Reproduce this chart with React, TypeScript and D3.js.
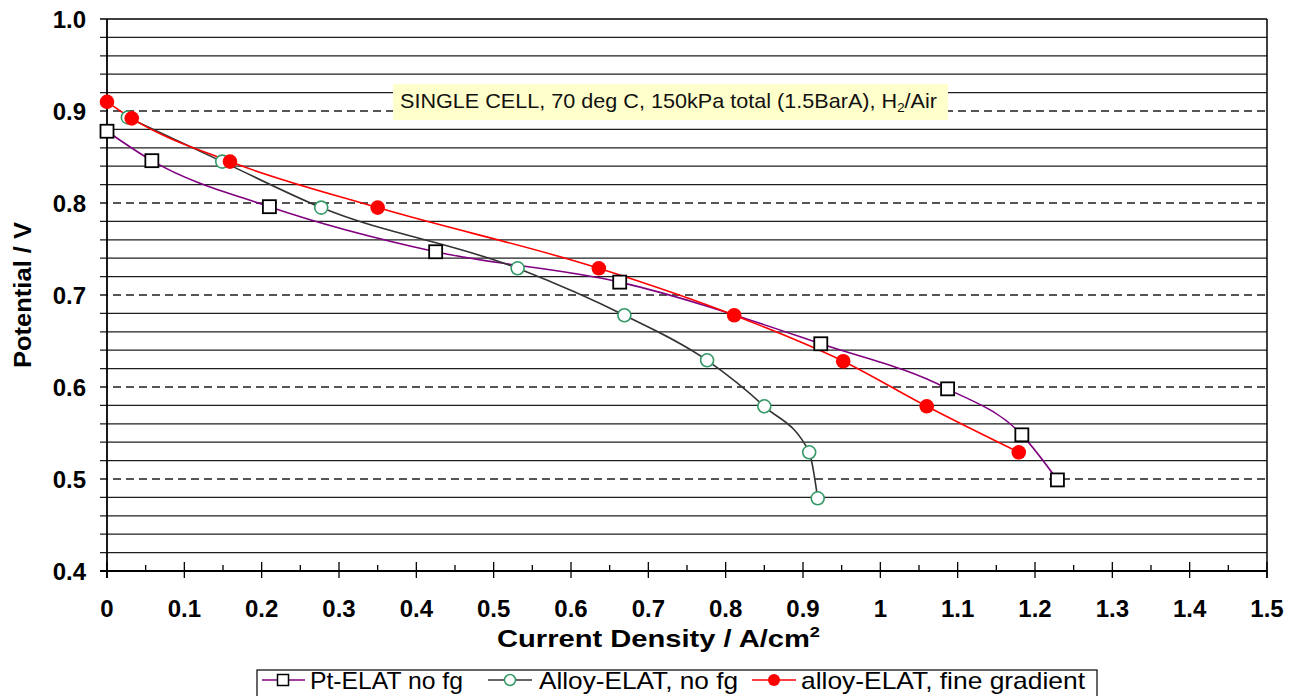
import React from 'react';
import * as d3 from 'd3';

const ptX = [0, 0.058, 0.210, 0.425, 0.663, 0.923, 1.087, 1.183, 1.229];
const ptV = [0.878, 0.846, 0.796, 0.747, 0.714, 0.647, 0.598, 0.548, 0.499];
const alloyX = [0.027, 0.149, 0.277, 0.531, 0.669, 0.776, 0.850, 0.908, 0.919];
const alloyV = [0.893, 0.845, 0.795, 0.729, 0.678, 0.629, 0.579, 0.529, 0.479];
const fgX = [0, 0.032, 0.159, 0.350, 0.636, 0.811, 0.952, 1.060, 1.179];
const fgV = [0.910, 0.892, 0.845, 0.795, 0.729, 0.678, 0.628, 0.579, 0.529];

const xTickValues = [0, 0.1, 0.2, 0.3, 0.4, 0.5, 0.6, 0.7, 0.8, 0.9, 1, 1.1, 1.2, 1.3, 1.4, 1.5];
const xTickLabels = ['0', '0.1', '0.2', '0.3', '0.4', '0.5', '0.6', '0.7', '0.8', '0.9', '1', '1.1', '1.2', '1.3', '1.4', '1.5'];
const yTickValues = [0.4, 0.5, 0.6, 0.7, 0.8, 0.9, 1.0];
const yTickLabels = ['0.4', '0.5', '0.6', '0.7', '0.8', '0.9', '1.0'];
const seriesNames = ['Pt-ELAT no fg', 'Alloy-ELAT, no fg', 'alloy-ELAT, fine gradient'];
const annotation = 'SINGLE CELL, 70 deg C, 150kPa total (1.5BarA), H';

const FONT = "'Liberation Sans', Arial, sans-serif";

export default function App() {
  const x = d3.scaleLinear().domain([0, 1.5]).range([107, 1267]);
  const y = d3.scaleLinear().domain([0.4, 1.0]).range([571, 19]);

  const minor: number[] = [];
  for (let i = 21; i < 50; i++) {
    if (i % 5 !== 0) minor.push(i / 50);
  }
  const xMinor = d3.range(0.05, 1.5, 0.1);

  const line = d3
    .line<[number, number]>()
    .x((d) => x(d[0]))
    .y((d) => y(d[1]))
    .curve(d3.curveMonotoneX);

  const pt: [number, number][] = ptX.map((v, i) => [v, ptV[i]]);
  const al: [number, number][] = alloyX.map((v, i) => [v, alloyV[i]]);
  const fg: [number, number][] = fgX.map((v, i) => [v, fgV[i]]);

  const sq = 13;
  const gridColor = '#1e1e1e';

  return (
    <svg width={1289} height={696} style={{ position: 'absolute', left: 0, top: 0, background: '#fff' }} fontFamily={FONT}>
      {minor.map((v) => (
        <line key={'m' + v} x1={100} x2={x(1.5)} y1={y(v)} y2={y(v)} stroke={gridColor} strokeWidth={1.3} />
      ))}
      {yTickValues.filter((v) => v > 0.45 && v < 0.95).map((v) => (
        <line key={'M' + v} x1={100} x2={x(1.5)} y1={y(v)} y2={y(v)} stroke={gridColor} strokeWidth={1.3} strokeDasharray="8,5" />
      ))}
      <line x1={100} x2={x(1.5)} y1={y(1.0)} y2={y(1.0)} stroke="#000" strokeWidth={1.5} />
      <line x1={100} x2={x(1.5)} y1={y(0.4)} y2={y(0.4)} stroke="#000" strokeWidth={1.8} />
      <line x1={x(0)} x2={x(0)} y1={y(1.0)} y2={y(0.4) + 7} stroke="#000" strokeWidth={1.8} />
      <line x1={x(1.5)} x2={x(1.5)} y1={y(1.0)} y2={y(0.4) + 7} stroke="#000" strokeWidth={1.5} />
      {xTickValues.map((v) => (
        <line key={'xt' + v} x1={x(v)} x2={x(v)} y1={y(0.4) - 9} y2={y(0.4) + 7} stroke="#000" strokeWidth={1.3} />
      ))}
      {xMinor.map((v) => (
        <line key={'xm' + v} x1={x(v)} x2={x(v)} y1={y(0.4) - 6} y2={y(0.4)} stroke="#000" strokeWidth={1.3} />
      ))}
      {xTickValues.map((v, i) => (
        <text key={'xl' + v} x={x(v)} y={617} textAnchor="middle" fontSize={24} fontWeight="bold" fill="#000">
          {xTickLabels[i]}
        </text>
      ))}
      {yTickValues.map((v, i) => (
        <text key={'yl' + v} x={86} y={y(v) + 8.5} textAnchor="end" fontSize={24} fontWeight="bold" fill="#000">
          {yTickLabels[i]}
        </text>
      ))}
      <text x={497} y={647} fontSize={24} fontWeight="bold" fill="#000" textLength={323} lengthAdjust="spacingAndGlyphs">
        Current Density / A/cm<tspan dy={-10} fontSize={15}>2</tspan>
      </text>
      <text transform={`translate(31,${295}) rotate(-90)`} textAnchor="middle" fontSize={24} fontWeight="bold" fill="#000" textLength={146} lengthAdjust="spacingAndGlyphs">
        Potential / V
      </text>

      <rect x={393} y={84} width={555} height={36} fill="#ffffcc" />
      <text x={400} y={108} fontSize={21} fill="#111" textLength={537} lengthAdjust="spacingAndGlyphs">
        {annotation}
        <tspan dy={4} fontSize={13}>2</tspan>
        <tspan dy={-4}>/Air</tspan>
      </text>

      <path d={line(pt) || ''} fill="none" stroke="#800080" strokeWidth={1.6} />
      <path d={line(al) || ''} fill="none" stroke="#333" strokeWidth={1.6} />
      <path d={line(fg) || ''} fill="none" stroke="#ff0000" strokeWidth={1.6} />

      {pt.map((d, i) => (
        <rect key={'p' + i} x={x(d[0]) - sq / 2} y={y(d[1]) - sq / 2} width={sq} height={sq} fill="#fff" stroke="#000" strokeWidth={1.8} />
      ))}
      {al.map((d, i) => (
        <circle key={'a' + i} cx={x(d[0])} cy={y(d[1])} r={6.5} fill="#fff" stroke="#339966" strokeWidth={1.6} />
      ))}
      {fg.map((d, i) => (
        <circle key={'f' + i} cx={x(d[0])} cy={y(d[1])} r={7.3} fill="#ff0000" />
      ))}

      <rect x={257} y={670} width={840} height={32} fill="#fff" stroke="#000" strokeWidth={1.2} />
      <g>
        <line x1={262} x2={305} y1={680} y2={680} stroke="#800080" strokeWidth={1.6} />
        <rect x={283 - 5.5} y={680 - 5.5} width={11} height={11} fill="#fff" stroke="#000" strokeWidth={1.5} />
        <text x={310} y={689} fontSize={24} fill="#000" textLength={153} lengthAdjust="spacingAndGlyphs">{seriesNames[0]}</text>
      </g>
      <g>
        <line x1={488} x2={532} y1={680} y2={680} stroke="#333" strokeWidth={1.6} />
        <circle cx={510} cy={680} r={5.5} fill="#fff" stroke="#339966" strokeWidth={1.5} />
        <text x={539} y={689} fontSize={24} fill="#000" textLength={199} lengthAdjust="spacingAndGlyphs">{seriesNames[1]}</text>
      </g>
      <g>
        <line x1={752} x2={796} y1={680} y2={680} stroke="#ff0000" strokeWidth={1.6} />
        <circle cx={774} cy={680} r={6} fill="#ff0000" />
        <text x={801} y={689} fontSize={24} fill="#000" textLength={284} lengthAdjust="spacingAndGlyphs">{seriesNames[2]}</text>
      </g>
    </svg>
  );
}
